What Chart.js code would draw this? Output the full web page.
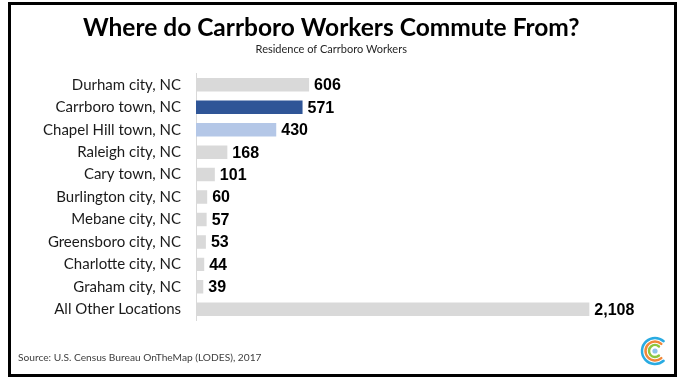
<!DOCTYPE html>
<html>
<head>
<meta charset="utf-8">
<script src="https://cdn.jsdelivr.net/npm/chart.js@4.4.1/dist/chart.umd.min.js"></script>
<style>
  html, body { margin: 0; padding: 0; background: #fff; }
  canvas { display: block; }
</style>
</head>
<body>
<canvas id="myChart" width="683" height="378"></canvas>
<script>
// data
const categories = [
  "Durham city, NC",
  "Carrboro town, NC",
  "Chapel Hill town, NC",
  "Raleigh city, NC",
  "Cary town, NC",
  "Burlington city, NC",
  "Mebane city, NC",
  "Greensboro city, NC",
  "Charlotte city, NC",
  "Graham city, NC",
  "All Other Locations",
];
const workers = [606, 571, 430, 168, 101, 60, 57, 53, 44, 39, 2108];
const axisMax = 2500;

// colours
const baseColor = "#d9d9d9";
const highlight = {
  "Carrboro town, NC": "#2f5597",
  "Chapel Hill town, NC": "#b4c7e7",
};

// value labels next to bar ends
const valueLabels = {
  id: "valueLabels",
  afterDatasetsDraw(chart) {
    const { ctx } = chart;
    const meta = chart.getDatasetMeta(0);
    ctx.save();
    ctx.font = "bold 16px 'Liberation Sans', Arial, sans-serif";
    ctx.fillStyle = "#000";
    ctx.textAlign = "left";
    ctx.textBaseline = "middle";
    meta.data.forEach((bar, i) => {
      const v = chart.data.datasets[0].data[i];
      ctx.fillText(v.toLocaleString("en-US"), bar.x + 5, bar.y + 1);
    });
    ctx.restore();
  },
};

// frame, source note and logo
const decor = {
  id: "decor",
  afterDraw(chart) {
    const { ctx } = chart;
    ctx.save();
    ctx.strokeStyle = "#000";
    ctx.lineWidth = 3;
    ctx.strokeRect(9.5, 3.5, 666, 372);

    ctx.font = "10.2px Lato, 'Open Sans', sans-serif";
    ctx.fillStyle = "#404040";
    ctx.textAlign = "left";
    ctx.textBaseline = "middle";
    ctx.fillText("Source: U.S. Census Bureau OnTheMap (LODES), 2017", 18, 358);

    // logo
    const cx = 655, cy = 351;
    const rings = [
      { r: 13, c: "#29abe2" },
      { r: 9.5, c: "#f0883a" },
      { r: 6, c: "#8cc63f" },
    ];
    ctx.lineWidth = 2.5;
    ctx.lineCap = "round";
    rings.forEach((g) => {
      ctx.beginPath();
      ctx.strokeStyle = g.c;
      ctx.arc(cx, cy, g.r, Math.PI * 0.27, Math.PI * 1.73);
      ctx.stroke();
    });
    ctx.beginPath();
    ctx.fillStyle = "#8cc4ec";
    ctx.arc(cx, cy, 2.6, 0, Math.PI * 2);
    ctx.fill();
    ctx.restore();
  },
};

const data = {
  labels: categories,
  datasets: [
    {
      label: "Workers",
      data: workers,
      backgroundColor: categories.map((c) => highlight[c] || baseColor),
      borderWidth: 0,
      categoryPercentage: 1,
      barPercentage: 0.6,
    },
  ],
};

const config = {
  type: "bar",
  data: data,
  options: {
    indexAxis: "y",
    responsive: false,
    animation: false,
    devicePixelRatio: 1,
    layout: { padding: { left: 0, right: 20.5, top: 0, bottom: 57.5 } },
    plugins: {
      legend: { display: false },
      tooltip: { enabled: false },
      title: {
        display: true,
        text: "Where do Carrboro Workers Commute From?",
        color: "#000",
        font: { family: "Lato, 'Open Sans', sans-serif", size: 24.5, weight: "bold" },
        padding: { top: 13, bottom: 0 },
      },
      subtitle: {
        display: true,
        text: "Residence of Carrboro Workers",
        color: "#262626",
        font: { family: "Lato, 'Open Sans', sans-serif", size: 11 },
        padding: { top: 0, bottom: 18 },
      },
    },
    scales: {
      x: {
        display: false,
        min: 0,
        max: axisMax,
      },
      y: {
        grid: { display: false, drawTicks: false },
        border: { display: true, color: "#d9d9d9", width: 1 },
        ticks: {
          color: "#1a1a1a",
          padding: 15,
          font: { family: "Lato, 'Open Sans', sans-serif", size: 15 },
        },
        afterFit(scale) {
          scale.width = 196;
        },
      },
    },
  },
  plugins: [valueLabels, decor],
};

const myChart = new Chart(document.getElementById("myChart"), config);
</script>
</body>
</html>
